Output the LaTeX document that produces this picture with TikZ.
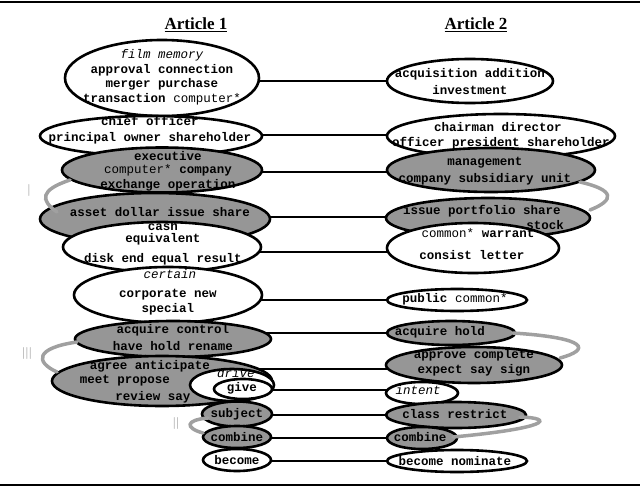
\documentclass[tikz,border=0pt]{standalone}
\usepackage{fontspec}
\setmainfont{Liberation Serif}
\newfontfamily\mono{Liberation Mono}
\usetikzlibrary{backgrounds,shapes.geometric}
\definecolor{gfill}{RGB}{150,150,150}
\definecolor{gline}{RGB}{160,160,160}
\tikzset{
  ov/.style={ellipse,draw=black,line width=2.6pt,fill=white,inner sep=0pt},
  gov/.style={ov,fill=gfill},
  tx/.style={inner sep=0pt,font=\mono\fontsize{12.5}{14}\selectfont\bfseries},
  rg/.style={inner sep=0pt,font=\mono\fontsize{12.5}{14}\selectfont},
  it/.style={inner sep=0pt,font=\mono\fontsize{12.5}{14}\selectfont\itshape},
  conn/.style={line width=2.6pt},
  grp/.style={draw=gline,line width=3.5pt,line cap=round},
  lab/.style={inner sep=0pt,text=gray,font=\sffamily\fontsize{12}{12}\selectfont},
  ttl/.style={inner sep=0pt,font=\fontsize{17}{17}\selectfont\bfseries}
}
\newcommand{\el}[5]{\node[#1,minimum width=#4pt,minimum height=#5pt] (#2) at #3 {};}
\begin{document}
\begin{tikzpicture}[x=1pt,y=-1pt]
\useasboundingbox (0,0) rectangle (640,495);
\draw[line width=1.5pt] (0,2) -- (640,2);
\draw[line width=1.5pt] (0,485) -- (640,485);
\node[ttl] (t1) at (196,25) {\underline{Article 1}};
\node[ttl] (t2) at (476,25) {\underline{Article 2}};
% left ellipses
\el{ov}{E1}{(162,78)}{194}{76}
\el{ov}{E2}{(151,136)}{222}{40}
\el{gov}{E3}{(162,170)}{200}{45}
\el{gov}{E4}{(155,219)}{230}{52}
\el{ov}{E5}{(162,247)}{198}{50}
\el{ov}{E6}{(168,295)}{188}{56}
\el{gov}{E7}{(173,339)}{196}{36}
\el{gov}{E8}{(162,381)}{220}{50}
\el{ov}{E9}{(232,385)}{84}{32}
\el{ov}{E10}{(243,389)}{58}{20}
\el{gov}{E11}{(237,414)}{70}{25}
\el{gov}{E12}{(237,437)}{68}{22}
\el{ov}{E13}{(237,460)}{68}{22}
% right ellipses
\el{ov}{R1}{(470,81)}{166}{44}
\el{ov}{R2}{(501,136)}{228}{44}
\el{gov}{R3}{(491,170)}{208}{44}
\el{gov}{R4}{(488,218)}{204}{40}
\el{ov}{R5}{(473,248)}{172}{50}
\el{ov}{R6}{(457,300)}{140}{22}
\el{gov}{R7}{(451,333)}{128}{24}
\el{gov}{R8}{(474,365)}{176}{36}
\el{ov}{R9}{(422,393)}{72}{22}
\el{gov}{R10}{(456,415)}{140}{26}
\el{gov}{R11}{(422,438)}{70}{22}
\el{ov}{R12}{(457,461)}{140}{22}
\begin{scope}[on background layer]
\draw[conn] (E1.center |- 0,81) -- (R1.center |- 0,81);
\draw[conn] (E2.center |- 0,135) -- (R2.center |- 0,135);
\draw[conn] (E3.center |- 0,172) -- (R3.center |- 0,172);
\draw[conn] (E4.center |- 0,217) -- (R4.center |- 0,217);
\draw[conn] (E5.center |- 0,252) -- (R5.center |- 0,252);
\draw[conn] (E6.center |- 0,300) -- (R6.center |- 0,300);
\draw[conn] (E7.center |- 0,333) -- (R7.center |- 0,333);
\draw[conn] (E8.center |- 0,369) -- (R8.center |- 0,369);
\draw[conn] (E10.center |- 0,390) -- (R9.center |- 0,390);
\draw[conn] (E11.center |- 0,415) -- (R10.center |- 0,415);
\draw[conn] (E12.center |- 0,438) -- (R11.center |- 0,438);
\draw[conn] (E13.center |- 0,461) -- (R12.center |- 0,461);
\end{scope}
% group strokes
\draw[grp] (70,180) .. controls (40,190) and (40,200) .. (57,212);
\draw[grp] (580,182) .. controls (615,190) and (615,200) .. (590,210);
\draw[grp] (77,342) .. controls (35,348) and (35,362) .. (57,372);
\draw[grp] (513,333) .. controls (590,338) and (590,350) .. (560,358);
\draw[grp] (208,418) .. controls (185,420) and (185,428) .. (203,433);
\draw[grp] (520,417) .. controls (555,418) and (550,428) .. (453,437);
\node[lab] (l1) at (29,190) {|};
\node[lab] (l3) at (27,353) {|||};
\node[lab] (l2) at (176,423) {||};
% left texts
\node[it] at (162,55) {film memory};
\node[tx] at (162,70) {approval connection};
\node[tx] at (162,84) {merger purchase};
\node[tx] at (162,99) {transaction {\mdseries computer*}};
\node[tx] at (150,121) {chief officer};
\node[tx] at (150,138) {principal owner shareholder};
\node[tx] at (168,156) {executive};
\node[tx] at (168,170) {{\mdseries computer*} company};
\node[tx] at (168,185) {exchange operation};
\node[tx] at (160,212) {asset dollar issue share};
\node[tx] at (163,226) {cash};
\node[tx] at (163,239) {equivalent};
\node[tx] at (163,259) {disk end equal result};
\node[it] at (170,274) {certain};
\node[tx] at (168,295) {corporate new};
\node[tx] at (168,309) {special};
\node[tx] at (173,330) {acquire control};
\node[tx] at (173,346) {have hold rename};
\node[tx] at (150,366) {agree anticipate};
\node[tx] at (125,381) {meet propose};
\node[tx] at (153,397) {review say};
\node[it] at (236,373) {drive};
\node[tx] at (242,388) {give};
\node[tx] at (237,414) {subject};
\node[tx] at (237,437) {combine};
\node[tx] at (237,460) {become};
% right texts
\node[tx] at (470,74) {acquisition addition};
\node[tx] at (470,90) {investment};
\node[tx] at (498,127) {chairman director};
\node[tx] at (501,143) {officer president shareholder};
\node[tx] at (485,163) {management};
\node[tx] at (485,179) {company subsidiary unit};
\node[tx] at (482,211) {issue portfolio share};
\node[tx] at (545,225) {stock};
\node[tx] at (478,233) {{\mdseries common*} warrant};
\node[tx] at (472,255) {consist letter};
\node[tx] at (455,299) {public {\mdseries common*}};
\node[tx] at (440,332) {acquire hold};
\node[tx] at (474,355) {approve complete};
\node[tx] at (474,370) {expect say sign};
\node[it] at (418,390) {intent};
\node[tx] at (455,414) {class restrict};
\node[tx] at (420,437) {combine};
\node[tx] at (455,461) {become nominate};
\end{tikzpicture}
\end{document}
